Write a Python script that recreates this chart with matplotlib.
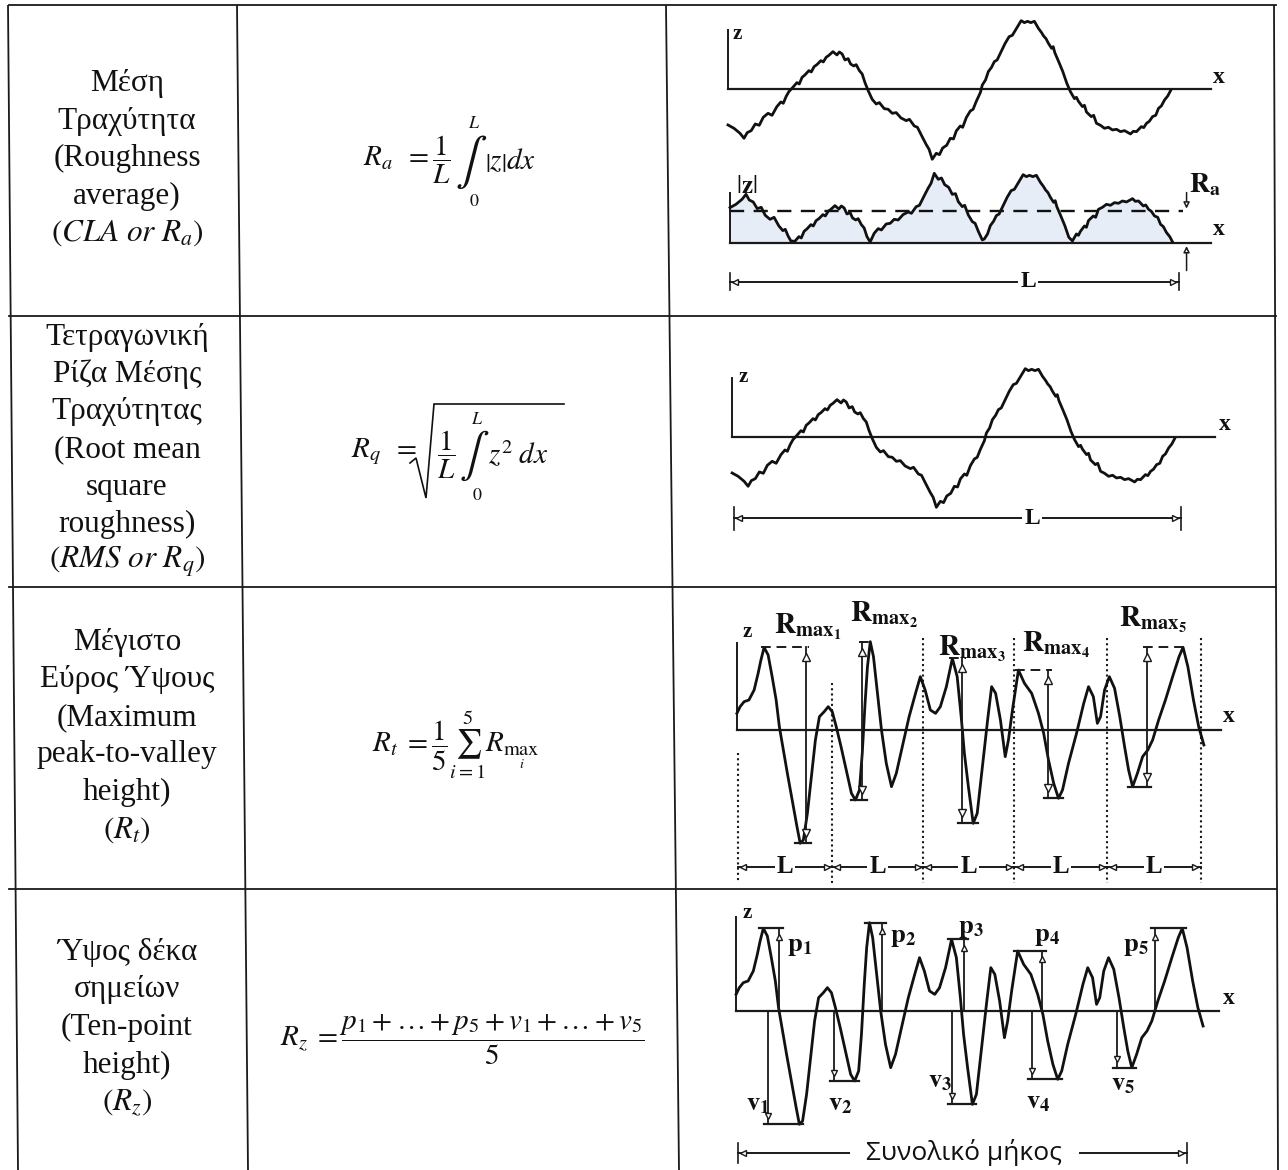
import numpy as np
import matplotlib
matplotlib.use('Agg')
import matplotlib.pyplot as plt

plt.rcParams['font.family'] = ['Liberation Serif', 'DejaVu Serif']
plt.rcParams['mathtext.fontset'] = 'stix'

W, H = 1288, 1170

# ------------------------------------------------------------------ data
row_titles = [
    ["Μέση", "Τραχύτητα", "(Roughness", "average)", r"$\left(CLA\ or\ R_a\right)$"],
    ["Τετραγωνική", "Ρίζα Μέσης", "Τραχύτητας", "(Root mean", "square", "roughness)",
     r"$\left(RMS\ or\ R_q\right)$"],
    ["Μέγιστο", "Εύρος Ύψους", "(Maximum", "peak-to-valley", "height)", r"$\left(R_t\right)$"],
    ["Ύψος δέκα", "σημείων", "(Ten-point", "height)", r"$\left(R_z\right)$"],
]
formula_ra_left = r"$R_a\;\;=\dfrac{1}{L}$"
formula_ra_right = r"$\left|z\right|dx$"
formula_rq_left = r"$R_q\;\;=$"
formula_rq_frac = r"$\dfrac{1}{L}$"
formula_rq_right = r"$z^2\;dx$"
formula_rt = r"$R_t\;=\dfrac{1}{5}\sum_{i=1}^{5}R_{\max_i}$"
formula_rz = r"$R_z\;=\dfrac{p_1+\ldots+p_5+v_1+\ldots+v_5}{5}$"

# profile A (rows 1 and 2): position along length, height
profile_a_x = [0, 1.5, 3.0, 4.0, 4.8, 5.8, 6.8, 7.8, 8.8, 10.0, 11.0, 12.2, 13.2, 13.8, 14.5,
               15.2, 16.2, 17.2, 17.8, 18.5, 19.2, 20.2, 20.8, 21.5, 22.2, 23.2, 23.8, 24.5,
               25.2, 26.2, 27.2, 27.8, 28.5, 29.2, 30.0, 30.6, 31.4, 32.0, 32.8, 33.5, 34.2,
               35.0, 36.0, 37.0, 37.8, 39.0, 40.0, 41.0, 42.0, 43.2, 44.5, 45.3, 46.5, 47.3,
               48.3, 49.5, 50.2, 51.0, 52.0, 52.8, 53.6, 54.6, 55.5, 56.3, 57.0, 58.0, 58.6,
               59.5, 60.5, 61.2, 62.0, 63.0, 63.5, 64.3, 65.0, 65.8, 66.5, 67.2, 68.0, 69.2,
               70.2, 71.0, 71.8, 72.6, 73.2, 74.0, 74.8, 75.6, 76.5, 77.5, 78.3, 78.8, 79.4,
               80.0, 80.8, 81.2, 81.6, 82.6, 83.6, 84.6, 85.5, 86.5, 87.0, 87.5, 88.5, 89.0,
               89.5, 90.7, 91.3, 92.0, 93.0, 94.0, 95.0, 96.0, 97.0, 98.0, 99.0, 100.5, 101.2,
               102.0, 103.2, 103.8, 104.5, 105.2, 106.0, 106.8, 107.5, 108.2, 109.0, 109.8,
               110.5]
profile_a_z = [-10.7, -11.7, -13.2, -14.7, -13.0, -12.4, -10.4, -10.8, -8.4, -7.2, -7.8, -5.2,
               -3.8, -4.2, -2.2, -0.7, 0.6, 2.0, 1.6, 3.6, 4.3, 5.6, 5.2, 6.8, 7.4, 8.6, 8.2,
               9.6, 10.2, 11.3, 10.3, 11.2, 10.6, 8.8, 9.2, 7.6, 7.0, 7.4, 5.6, 4.6, 2.0, -0.4,
               -3.0, -4.4, -4.0, -5.8, -6.0, -7.2, -7.0, -8.6, -9.4, -9.0, -11.0, -11.4, -13.8,
               -16.6, -18.0, -21.0, -19.2, -19.6, -17.6, -16.8, -14.7, -14.9, -12.5, -11.0,
               -11.4, -8.5, -6.5, -6.0, -3.6, -1.0, 1.3, 2.8, 5.3, 6.6, 8.3, 8.8, 10.8, 13.8,
               15.8, 16.2, 17.8, 19.4, 20.6, 20.0, 20.4, 20.0, 20.4, 18.3, 17.0, 16.0, 15.2,
               13.8, 12.3, 12.8, 11.0, 8.2, 5.3, 1.8, -0.7, -2.8, -2.4, -3.6, -5.2, -4.8, -6.8,
               -8.2, -7.8, -10.2, -10.8, -11.7, -11.4, -12.2, -12.0, -12.7, -12.4, -13.4,
               -12.6, -12.7, -11.2, -11.5, -10.2, -9.6, -8.2, -7.8, -5.7, -5.0, -3.2, -2.0,
               -0.4]

# profile B (rows 3 and 4)
profile_b_x = [0, 0.8, 1.8, 3.0, 4.3, 5.3, 6.0, 6.8, 7.8, 8.8, 9.8, 10.6, 11.6, 12.6, 13.8, 15.0,
               15.8, 16.6, 17.6, 18.6, 19.6, 20.6, 21.8, 22.8, 23.8, 24.8, 26.0, 27.3, 28.6,
               29.6, 30.6, 31.3, 32.0, 32.6, 33.3, 34.1, 35.1, 36.1, 37.3, 38.6, 39.8, 41.3,
               43.0, 44.6, 45.8, 47.0, 48.3, 49.6, 50.8, 52.3, 53.8, 55.0, 56.0, 56.8, 57.8,
               59.0, 60.0, 61.3, 62.6, 63.6, 64.6, 65.8, 67.0, 67.8, 68.8, 70.3, 71.8, 73.6,
               75.3, 76.6, 77.8, 79.1, 80.3, 81.3, 82.8, 84.8, 86.6, 87.8, 89.0, 90.0, 90.8,
               91.8, 93.0, 94.3, 95.6, 96.8, 97.8, 98.8, 100.0, 101.3, 102.6, 103.8, 105.3,
               107.0, 108.8, 110.4, 111.4, 112.6, 114.0, 115.3, 116.6]
profile_b_z = [5.0, 7.0, 8.5, 9.0, 12.0, 17.0, 21.0, 24.8, 22.5, 16.0, 9.0, 1.0, -6.0, -13.0,
               -21.0, -29.0, -34.0, -33.0, -25.0, -14.0, -3.0, 4.0, 5.5, 7.0, 5.5, 1.0, -5.0,
               -12.0, -19.0, -21.0, -18.0, -7.0, 8.0, 19.0, 26.5, 22.0, 11.0, 0.0, -10.0,
               -17.0, -13.0, -5.0, 4.0, 11.0, 16.0, 12.0, 6.0, 5.0, 7.0, 13.0, 21.5, 16.0, 4.0,
               -7.0, -17.0, -28.0, -25.0, -11.0, 3.0, 13.0, 11.0, 3.0, -8.0, -3.0, 6.0, 18.0,
               14.0, 11.0, 5.0, -1.0, -9.0, -16.0, -20.5, -18.0, -10.0, -1.0, 8.0, 13.0, 10.0,
               2.0, 4.0, 12.0, 16.0, 12.5, 4.0, -5.0, -12.0, -17.0, -13.0, -8.0, -6.0, -3.0,
               3.0, 9.0, 16.0, 22.0, 24.8, 19.0, 9.0, 1.0, -4.5]

segment_edges = [0.3, 23.8, 46.5, 69.3, 92.5, 115.8]     # five sampling lengths L
rmax_marker_x = [17.3, 31.3, 56.3, 77.8, 102.3]
peak_marker_x = [10.8, 36.5, 57.0, 76.5, 104.5]
valley_marker_x = [8.0, 24.5, 54.0, 74.0, 95.0]
total_length_label = "Συνολικό μήκος"

# ------------------------------------------------------------------ figure
fig = plt.figure(figsize=(W / 100, H / 100), dpi=100)
fig.patch.set_facecolor('white')
base = fig.add_axes([0, 0, 1, 1])
base.set_xlim(0, W)
base.set_ylim(H, 0)
base.axis('off')

LC = '#1a1a1a'
TC = '#111111'
# table grid (scan is slightly skewed)
col_top = [8, 237, 666, 1274]
col_bot = [18, 248, 679, 1278]
for xt, xb in zip(col_top, col_bot):
    base.plot([xt, xb], [5, H], color=LC, lw=1.3, solid_capstyle='butt')
row_lines = [5, 316, 587, 889]
for y in row_lines:
    base.plot([9, 1276], [y, y], color=LC, lw=1.3)

row_bounds = [(5, 316), (316, 587), (587, 889), (889, 1170)]
pitch = 37.5
for (y0, y1), lines in zip(row_bounds, row_titles):
    yc = (y0 + y1) / 2 - 2
    n = len(lines)
    for i, t in enumerate(lines):
        y = yc + (i - (n - 1) / 2) * pitch
        base.text(127, y, t, ha='center', va='center', fontsize=22.5, color=TC)

# --- formula R_a (integral with limits above / below)
FS = 21
base.text(363, 160, formula_ra_left, ha='left', va='center', fontsize=FS, color=TC)
base.text(471, 162, r'$\int$', ha='center', va='center', fontsize=34, color=TC)
base.text(474, 124, r'$L$', ha='center', va='center', fontsize=13, color=TC)
base.text(474, 202, r'$0$', ha='center', va='center', fontsize=13, color=TC)
base.text(485, 161, formula_ra_right, ha='left', va='center', fontsize=FS, color=TC)

# --- formula R_q (hand drawn radical)
base.text(351, 452, formula_rq_left, ha='left', va='center', fontsize=FS, color=TC)
base.plot([410, 416, 426, 434, 564], [463, 458, 498, 404, 404], color=TC, lw=1.2,
          solid_joinstyle='miter')
base.text(446, 455, formula_rq_frac, ha='center', va='center', fontsize=FS, color=TC)
base.text(474, 456, r'$\int$', ha='center', va='center', fontsize=32, color=TC)
base.text(477, 420, r'$L$', ha='center', va='center', fontsize=13, color=TC)
base.text(477, 495, r'$0$', ha='center', va='center', fontsize=13, color=TC)
base.text(488, 455, formula_rq_right, ha='left', va='center', fontsize=FS, color=TC)

base.text(456, 745, formula_rt, ha='center', va='center', fontsize=FS, color=TC)
base.text(462, 1040, formula_rz, ha='center', va='center', fontsize=FS, color=TC)


# ------------------------------------------------------------------ diagrams
SX, SZ = 4.005, 3.333


def panel(ox, oy):
    ax = fig.add_axes([0, 0, 1, 1])
    ax.set_xlim(-ox / SX, (W - ox) / SX)
    ax.set_ylim(-(H - oy) / SZ, oy / SZ)
    ax.axis('off')
    ax.patch.set_alpha(0)
    return ax


def bold(ax, x, z, s, size=16, **kw):
    ax.text(x, z, s, fontsize=size, fontweight='bold', color=TC, **kw)


def dim_line(ax, x0, x1, z, label, lx, pad=1.5, tick=2.5, size=17, family=None):
    ax.plot([x0, x1], [z, z], color=LC, lw=1.4)
    for xx in (x0, x1):
        ax.plot([xx, xx], [z - tick, z + tick], color=LC, lw=1.2)
    ax.plot([x0 + 1.3], [z], marker='<', ms=5, mfc='white', mec=LC, mew=1)
    ax.plot([x1 - 1.3], [z], marker='>', ms=5, mfc='white', mec=LC, mew=1)
    kw = dict(ha='center', va='center', color=TC, fontsize=size)
    if family:
        kw['family'] = family
    else:
        kw['fontweight'] = 'bold'
    ax.text(lx, z, label, bbox=dict(fc='white', ec='none', pad=pad), **kw)


ax_prof = np.array(profile_a_x)
az_prof = np.array(profile_a_z)
bx_prof = np.array(profile_b_x)
bz_prof = np.array(profile_b_z)
PLW = 2.0

# ---- row 1, top profile
a1 = panel(728, 89.3)
a1.plot([0, 0], [0, 17.8], color=LC, lw=1.4)
a1.plot([0, 120.5], [0, 0], color=LC, lw=1.6)
a1.plot(ax_prof, az_prof, color=TC, lw=PLW)
bold(a1, 1.2, 16.5, 'z', size=15, va='center')
bold(a1, 121, 3.6, 'x', size=17, va='center')

# ---- row 1, |z| profile
a2 = panel(730, 243.3)
absz = np.abs(az_prof)
a2.fill_between(ax_prof, 0, absz, color='#e6edf6', lw=0)
a2.plot([0, 0], [0, 15], color=LC, lw=1.4)
a2.plot([0, 120], [0, 0], color=LC, lw=1.6)
a2.plot(ax_prof, absz, color=TC, lw=PLW)
ra = np.trapezoid(absz, ax_prof) / (ax_prof[-1] - ax_prof[0])
a2.plot([0, 113], [ra, ra], color=TC, lw=1.7, dashes=(6, 4))
a2.annotate('', xy=(114, ra), xytext=(114, ra + 6.5),
            arrowprops=dict(arrowstyle='-|>', color=LC, lw=1.1, fc='white', mutation_scale=9))
a2.annotate('', xy=(114, 0), xytext=(114, -9),
            arrowprops=dict(arrowstyle='-|>', color=LC, lw=1.1, fc='white', mutation_scale=9))
a2.text(4.2, 17, r'$|\mathbf{z}|$', fontsize=18, ha='center', va='center', color=TC)
a2.text(114.5, 17.5, r'$\mathbf{R_a}$', fontsize=20, ha='left', va='center', color=TC)
bold(a2, 120.5, 4.0, 'x', size=17, va='center')
dim_line(a2, 0, 112, -11.5, 'L', 74.5)

# ---- row 2
b1 = panel(732.1, 437.3)
b1.plot([0, 0], [0, 17.7], color=LC, lw=1.4)
b1.plot([0, 120.5], [0, 0], color=LC, lw=1.6)
b1.plot(ax_prof, az_prof, color=TC, lw=PLW)
bold(b1, 1.5, 18.2, 'z', size=15, va='center')
bold(b1, 121.5, 3.7, 'x', size=17, va='center')
dim_line(b1, 0.5, 112, -24.3, 'L', 75, tick=3.5)


def extremes():
    res = []
    for k in range(5):
        m = (bx_prof >= segment_edges[k]) & (bx_prof <= segment_edges[k + 1])
        xs, zs = bx_prof[m], bz_prof[m]
        res.append((xs[np.argmax(zs)], zs.max(), xs[np.argmin(zs)], zs.min()))
    return res


ext = extremes()

# ---- row 3
c1 = panel(736.9, 730)
sep_top = [-7, 14, 27.5, 27.5, 27.5, 27.5]
for e, t in zip(segment_edges, sep_top):
    c1.plot([e, e], [t, -46], color=LC, lw=1.5, ls=(0, (1, 1.5)))
c1.plot([0, 0], [0, 26], color=LC, lw=1.4)
c1.plot([0, 120.8], [0, 0], color=LC, lw=1.6)
c1.plot(bx_prof, bz_prof, color=TC, lw=PLW)
bold(c1, 1.5, 29.5, 'z', size=15, va='center')
bold(c1, 121.3, 4.0, 'x', size=17, va='center')
rmax_lab = [(9.3, 31), (28.3, 34.5), (50.3, 24.5), (71.3, 25.5), (95.3, 33)]
for k, (mx, (xp, zp, xv, zv)) in enumerate(zip(rmax_marker_x, ext)):
    c1.plot([mx, mx], [zv, zp], color=LC, lw=1.3)
    c1.plot([min(xp, mx) - 0.8, max(xp, mx) + 0.8], [zp, zp], color=LC, lw=1.4, dashes=(5, 3))
    c1.plot([min(xv, mx) - 1.2, max(xv, mx) + 1.2], [zv, zv], color=LC, lw=1.6)
    c1.plot([mx], [zp - 3], marker='^', ms=6, mfc='white', mec=LC, mew=1)
    c1.plot([mx], [zv + 3], marker='v', ms=6, mfc='white', mec=LC, mew=1)
    lx, lz = rmax_lab[k]
    c1.text(lx, lz, r'$\mathbf{R}_{\mathbf{max}_{\mathbf{%d}}}$' % (k + 1), fontsize=21,
            ha='left', va='center', color=TC)
for k in range(5):
    e0, e1 = segment_edges[k], segment_edges[k + 1]
    c1.plot([e0, e1], [-41.1, -41.1], color=LC, lw=1.4)
    c1.plot([e0 + 1.3], [-41.1], marker='<', ms=5, mfc='white', mec=LC, mew=1)
    c1.plot([e1 - 1.3], [-41.1], marker='>', ms=5, mfc='white', mec=LC, mew=1)
    c1.text((e0 + e1) / 2, -41.1, 'L', ha='center', va='center', fontsize=18,
            fontweight='bold', color=TC, bbox=dict(fc='white', ec='none', pad=1.5))

# ---- row 4
d1 = panel(736.1, 1011)
d1.plot([0, 0], [0, 28.3], color=LC, lw=1.4)
d1.plot([0, 120.5], [0, 0], color=LC, lw=1.6)
d1.plot(bx_prof, bz_prof, color=TC, lw=PLW)
bold(d1, 1.5, 29.3, 'z', size=15, va='center')
bold(d1, 121.5, 3.8, 'x', size=17, va='center')
p_lab = [(12.8, 19.3), (38.5, 21.8), (55.5, 24.6), (74.5, 22.3), (96.5, 19.3)]
v_lab = [(2.5, -28.2), (23.0, -28.2), (47.8, -21.2), (72.3, -27.7), (93.5, -22.2)]
for k, (xp, zp, xv, zv) in enumerate(ext):
    px, vx = peak_marker_x[k], valley_marker_x[k]
    d1.plot([px, px], [0, zp], color=LC, lw=1.3)
    d1.plot([min(xp, px) - 1.0, max(xp, px) + 1.0], [zp, zp], color=LC, lw=1.6)
    d1.plot([px], [zp - 2.5], marker='^', ms=5, mfc='white', mec=LC, mew=1)
    d1.plot([vx, vx], [0, zv], color=LC, lw=1.3)
    d1.plot([min(xv, vx) - 1.0, max(xv, vx) + 1.0], [zv, zv], color=LC, lw=1.6)
    d1.plot([vx], [zv + 2.5], marker='v', ms=5, mfc='white', mec=LC, mew=1)
    d1.text(*p_lab[k], r'$\mathbf{p_{%d}}$' % (k + 1), fontsize=19, ha='left', va='center',
            color=TC)
    d1.text(*v_lab[k], r'$\mathbf{v_{%d}}$' % (k + 1), fontsize=19, ha='left', va='center',
            color=TC)
dim_line(d1, 0.5, 112.5, -42.6, total_length_label, 57, pad=12, tick=3, size=19,
         family=['Open Sans', 'DejaVu Sans'])

fig.savefig('out.png', dpi=100, facecolor='white')
